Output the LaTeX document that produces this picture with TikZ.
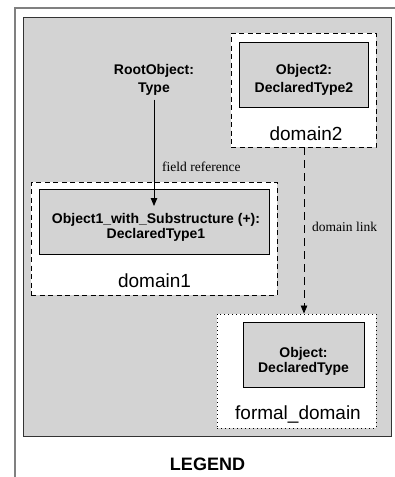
\documentclass[tikz,border=0pt]{standalone}
\usepackage{fontspec}
\setmainfont{Liberation Sans}
\newfontfamily\serifft{Liberation Serif}
\usetikzlibrary{arrows.meta,calc}
\definecolor{panelgray}{HTML}{D3D3D3}
\definecolor{framegray}{HTML}{808080}
\tikzset{
  objbox/.style={draw=black, line width=0.8pt, fill=panelgray, inner sep=0pt},
  domdash/.style={draw=black, line width=0.9pt, fill=white, dash pattern=on 5pt off 3.5pt, inner sep=0pt},
  domdot/.style={draw=black, line width=0.9pt, fill=white, dash pattern=on 1pt off 3pt, inner sep=0pt},
  objtext/.style={font=\fontsize{14}{15}\selectfont\bfseries, align=center, inner sep=0pt},
  domtext/.style={font=\fontsize{19}{22}\selectfont, inner sep=0pt, anchor=base},
  edgetext/.style={font=\serifft\fontsize{13.5}{15}\selectfont, inner sep=0pt, anchor=west},
  tip/.style={-{Triangle[length=8pt,width=6.5pt]}, line width=0.8pt}
}
\begin{document}
\begin{tikzpicture}[x=1pt,y=-1pt]
\useasboundingbox (0,0) rectangle (395,477);
% outer frame (open at right/bottom)
\begin{scope}
\clip (0,0) rectangle (395,477);
\draw[framegray, line width=2pt] (15,490) -- (15,8) -- (410,8);
\end{scope}
% panel
\node[draw=black!80, line width=0.8pt, fill=panelgray, inner sep=0pt, minimum width=368pt, minimum height=419pt] (panel) at (207,226.5) {};
% domain boxes
\node[domdash, minimum width=246pt, minimum height=113pt] (dom1) at (154,238.5) {};
\node[domdash, minimum width=145pt, minimum height=114pt] (dom2) at (303.5,90) {};
\node[domdot, minimum width=159pt, minimum height=114pt] (dom3) at (296.5,371) {};
% object boxes
\node[objbox, minimum width=230pt, minimum height=65pt] (obj1) at (154,221.5) {};
\node[objbox, minimum width=129pt, minimum height=65pt] (obj2) at (303.5,74.5) {};
\node[objbox, minimum width=121pt, minimum height=65pt] (obj3) at (303.5,354.5) {};
% object texts
\node[objtext] (obj1t) at (156,227) {Object1\_with\_Substructure (+):\\DeclaredType1};
\node[objtext, font=\fontsize{14}{18}\selectfont\bfseries] (obj2t) at (304,80) {Object2:\\DeclaredType2};
\node[objtext] (obj3t) at (303.5,361) {Object:\\DeclaredType};
\node[objtext, font=\fontsize{14}{18}\selectfont\bfseries] (root) at (154,80) {RootObject:\\Type};
% domain labels
\node[domtext] (dom1l) at (154.5,287) {domain1};
\node[domtext] (dom2l) at (306,140) {domain2};
\node[domtext] (dom3l) at (298,419) {formal\_domain};
% connectors
\coordinate (rtip) at (154,206);
\draw[tip] ($(root.south)+(0,4)$) -- (rtip);
\node[edgetext] (fref) at (162,167) {field reference};
\draw[tip, dash pattern=on 8pt off 5pt] (dom2.south -| 304,0) -- (dom3.north -| 304,0);
\node[edgetext] (dlink) at (312,227) {domain link};
% legend
\node[font=\fontsize{18}{20}\selectfont\bfseries, inner sep=0pt, anchor=base] (legend) at (207.5,470) {LEGEND};
\end{tikzpicture}
\end{document}
